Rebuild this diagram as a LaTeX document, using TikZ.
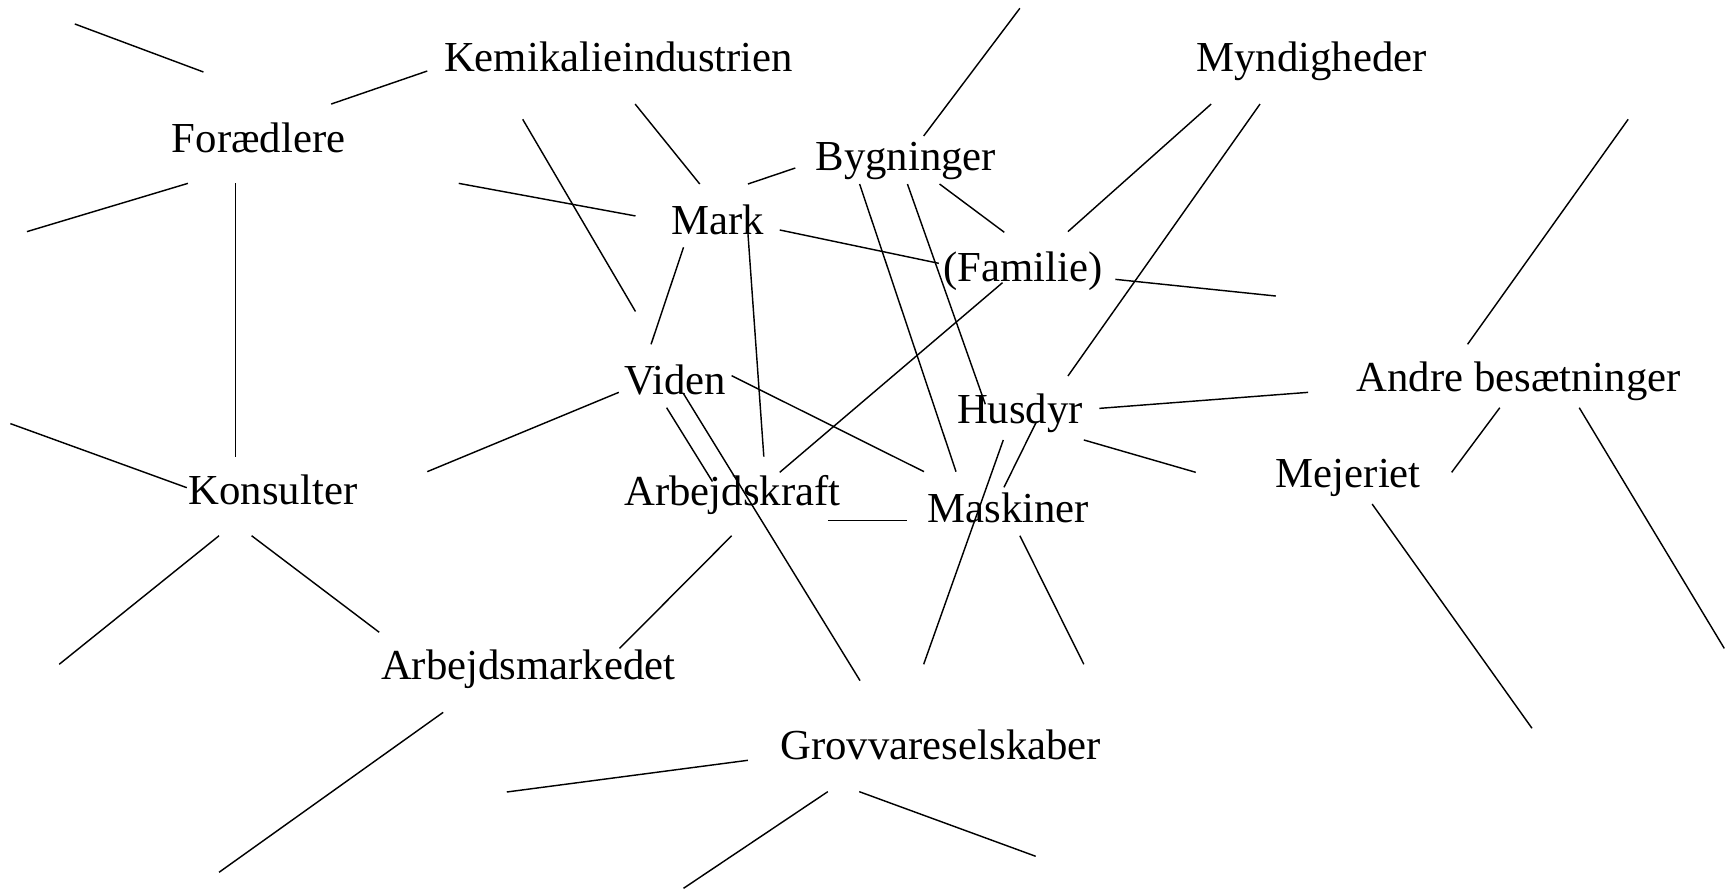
\documentclass[tikz,border=0pt]{standalone}
\usepackage{fontspec}
\setmainfont{Liberation Serif}
\begin{document}
\begin{tikzpicture}[x=1pt,y=-1pt,
  lbl/.style={anchor=base west,inner sep=0pt,outer sep=0pt,font=\fontsize{38.7}{46}\selectfont},
  link/.style={draw=black,line width=1.3pt}]
\useasboundingbox (0,0) rectangle (1568,805);
% labels
\node[lbl] (kemi) at (402,64.9) {Kemikalieindustrien};
\node[lbl] (foraed) at (155.7,138.2) {Forædlere};
\node[lbl] (mynd) at (1083.1,64.9) {Myndigheder};
\node[lbl] (byg) at (738.4,154.5) {Bygninger};
\node[lbl] (mark) at (607.7,212.7) {Mark};
\node[lbl] (fam) at (854,255) {(Familie)};
\node[lbl] (viden) at (565.3,356.7) {Viden};
\node[lbl] (andre) at (1228.1,354.6) {Andre besætninger};
\node[lbl] (husdyr) at (866.4,383.2) {Husdyr};
\node[lbl] (mejeriet) at (1155.1,441.5) {Mejeriet};
\node[lbl] (konsulter) at (170.8,456.3) {Konsulter};
\node[lbl] (arbkraft) at (565.3,457.8) {Arbejdskraft};
\node[lbl] (maskiner) at (839.8,473.2) {Maskiner};
\node[lbl] (arbmarked) at (345,615.3) {Arbejdsmarkedet};
\node[lbl] (grov) at (706.6,687.7) {Grovvareselskaber};
% end points
\coordinate (c1a) at (67.7,21.7);   \coordinate (c1b) at (184.2,65.2);
\coordinate (c2a) at (299.8,94.2);  \coordinate (c2b) at (386.8,64.3);
\coordinate (c3a) at (24.4,209.7);  \coordinate (c3b) at (170.1,166);
\coordinate (c4a) at (213,166);     \coordinate (c4b) at (213,413.4);
\coordinate (c5a) at (415.3,166);   \coordinate (c5b) at (575.3,195.5);
\coordinate (c6a) at (473.2,108);   \coordinate (c6b) at (575.3,282);
\coordinate (c7a) at (575,94.2);    \coordinate (c7b) at (633.5,166.6);
\coordinate (c8a) at (677.1,166.6); \coordinate (c8b) at (720,152.1);
\coordinate (c9a) at (836.2,123.1); \coordinate (c9b) at (923.3,7.5);
\coordinate (c10a) at (850.6,166.6); \coordinate (c10b) at (909.2,210.3);
\coordinate (c11a) at (778.2,166.6); \coordinate (c11b) at (618.8,311.7);
\coordinate (c12b) at (865.5,427);
\coordinate (c13a) at (821.5,166.6); \coordinate (c13b) at (892,366);
\coordinate (c14a) at (705.9,208.2); \coordinate (c14b) at (849.9,238.4);
\coordinate (c15a) at (618.8,223.9); \coordinate (c15b) at (589.4,311.7);
\coordinate (c16a) at (677.1,211.2); \coordinate (c16b) at (691.5,413.4);
\coordinate (c17a) at (1096.5,94.2); \coordinate (c17b) at (966.8,209.7);
\coordinate (c18a) at (1140.7,94.2); \coordinate (c18b) at (966.8,340.4);
\coordinate (c19a) at (1009.7,252.9); \coordinate (c19b) at (1155.1,268);
\coordinate (c20a) at (907.6,255.9); \coordinate (c20b) at (705.9,427.6);
\coordinate (c21a) at (1474,108);    \coordinate (c21b) at (1328.6,311.7);
\coordinate (c22a) at (995.3,369.7); \coordinate (c22b) at (1184.2,355.2);
\coordinate (c23a) at (981.2,398.3); \coordinate (c23b) at (1082.5,427.6);
\coordinate (c24a) at (1357.8,369.1); \coordinate (c24b) at (1314.2,427.6);
\coordinate (c25a) at (1429.7,369.1); \coordinate (c25b) at (1561,587);
\coordinate (c26a) at (1242.2,456.3); \coordinate (c26b) at (1386.9,659.3);
\coordinate (c27a) at (560.2,355.2); \coordinate (c27b) at (386.8,427);
\coordinate (c28a) at (662.3,340.1); \coordinate (c28b) at (836.5,427);
\coordinate (c29a) at (603.5,369.1); \coordinate (c29b) at (645,436);
\coordinate (c30a) at (618.6,356.1); \coordinate (c30b) at (778.6,616.2);
\coordinate (c31a) at (9.4,383.5);   \coordinate (c31b) at (169.1,441.5);
\coordinate (c32a) at (198.3,485);   \coordinate (c32b) at (53.6,601.4);
\coordinate (c33a) at (227.8,485);   \coordinate (c33b) at (343.3,572.4);
\coordinate (c34a) at (749.4,471);   \coordinate (c34b) at (821.5,471);
\coordinate (c35a) at (662.4,485);   \coordinate (c35b) at (560.9,587);
\coordinate (c36a) at (908.3,398.3); \coordinate (c36b) at (836.2,601.4);
\coordinate (c37a) at (937.9,382.6); \coordinate (c37b) at (908.9,441.2);
\coordinate (c38a) at (923.3,485);   \coordinate (c38b) at (981.2,601.4);
\coordinate (c39a) at (401.2,644.9); \coordinate (c39b) at (198.3,789.7);
\coordinate (c40a) at (677.1,688.3); \coordinate (c40b) at (458.8,717);
\coordinate (c41a) at (749.4,716.7); \coordinate (c41b) at (618.8,804.2);
\coordinate (c42a) at (777.9,716.7); \coordinate (c42b) at (937.6,775.2);
% connectors
\foreach \i in {1,...,10,13,14,15,16,17,18,19,20,21,22,23,24,25,26,27,28,29,30,31,32,33,34,35,36,37,38,39,40,41,42}
  \draw[link] (c\i a) -- (c\i b);
\draw[link] (c11a) -- (c12b);
\end{tikzpicture}
\end{document}
